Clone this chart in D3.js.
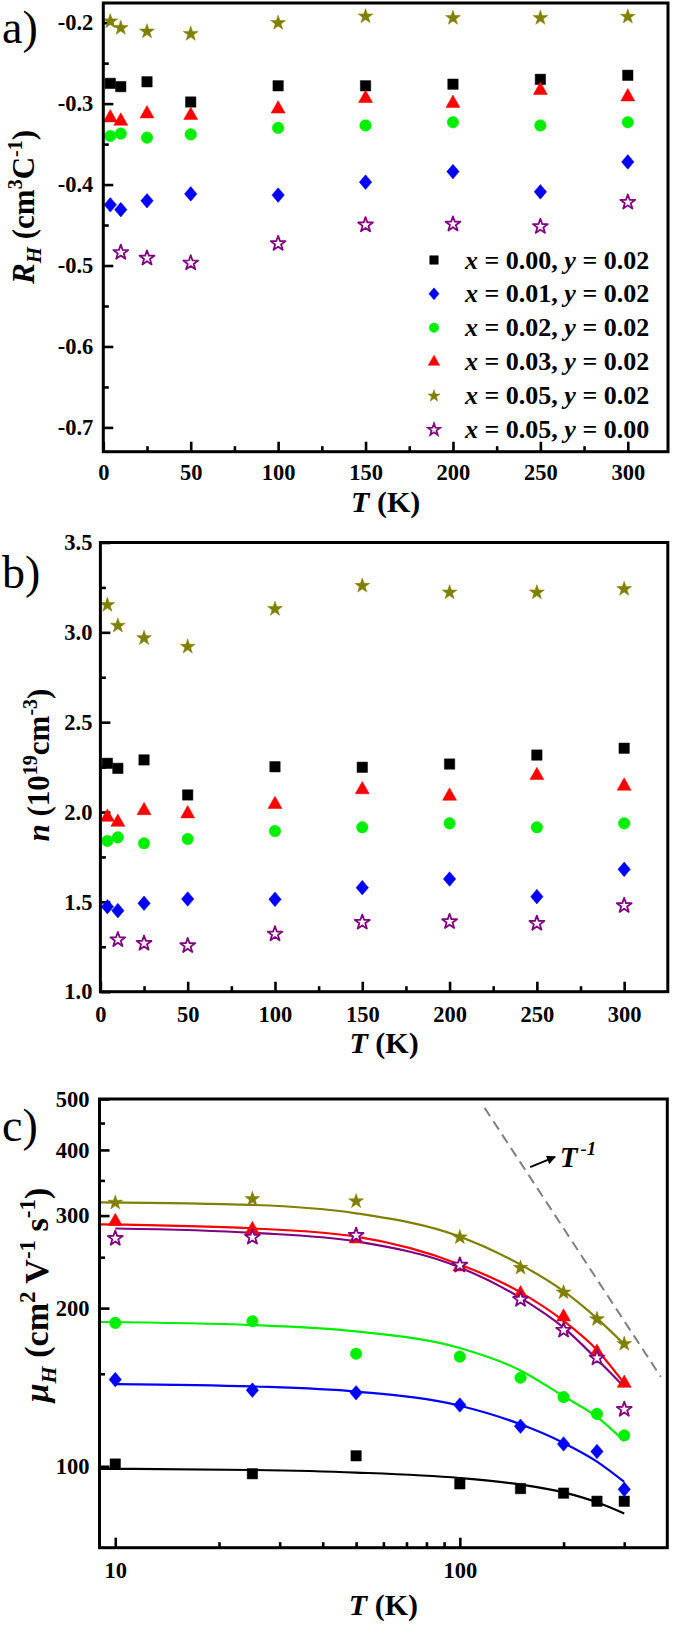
<!DOCTYPE html>
<html><head><meta charset="utf-8">
<script src="https://cdn.jsdelivr.net/npm/d3@7"></script>
<style>
body{margin:0;background:#fff}
svg{display:block}
</style>
</head><body>
<svg id="chart" width="675" height="1625"></svg>
<script>
// ---------------- DATA ----------------
const seriesX = ["0.00", "0.01", "0.02", "0.03", "0.05", "0.05"];
const seriesY = ["0.02", "0.02", "0.02", "0.02", "0.02", "0.00"];
const seriesColor = ["#000000", "#0000ff", "#00ee00", "#ff0000", "#808000", "#800080"];
const seriesShape = ["square", "diamond", "circle", "triangle", "star", "openstar"];

// temperatures (K) for panels a and b
const T_ab = [4, 10, 25, 50, 100, 150, 200, 250, 300];
const T_ab_y0 = [10, 25, 50, 100, 150, 200, 250, 300];

// panel a: Hall coefficient R_H (cm^3 C^-1)
const RH_000 = [-0.275, -0.279, -0.273, -0.298, -0.278, -0.278, -0.276, -0.270, -0.265];
const RH_001 = [-0.425, -0.431, -0.420, -0.4115, -0.413, -0.397, -0.384, -0.409, -0.372];
const RH_002 = [-0.340, -0.337, -0.342, -0.338, -0.330, -0.327, -0.323, -0.327, -0.323];
const RH_003 = [-0.317, -0.321, -0.312, -0.314, -0.306, -0.293, -0.299, -0.283, -0.291];
const RH_005 = [-0.1975, -0.2057, -0.210, -0.213, -0.1995, -0.1914, -0.1933, -0.1933, -0.1917];
const RH_005_y0 = [-0.483, -0.490, -0.496, -0.472, -0.449, -0.448, -0.451, -0.421];

// panel b: carrier density n (10^19 cm^-3)
const n_000 = [2.271, 2.243, 2.290, 2.095, 2.252, 2.249, 2.267, 2.317, 2.355];
const n_001 = [1.473, 1.451, 1.492, 1.516, 1.514, 1.579, 1.627, 1.529, 1.681];
const n_002 = [1.839, 1.859, 1.826, 1.850, 1.894, 1.915, 1.937, 1.915, 1.937];
const n_003 = [1.974, 1.946, 2.011, 1.993, 2.045, 2.127, 2.091, 2.206, 2.147];
const n_005 = [3.156, 3.041, 2.972, 2.924, 3.134, 3.263, 3.226, 3.226, 3.245];
const n_005_y0 = [1.293, 1.273, 1.260, 1.325, 1.390, 1.394, 1.384, 1.483];

// panel c: Hall mobility mu_H (cm^2 V^-1 s^-1)
const T_c = [10, 25, 50, 100, 150, 200, 250, 300];
const mu_000 = [101.0, 96.8, 104.7, 92.6, 90.7, 88.9, 85.8, 85.8];
const mu_001 = [146.2, 139.6, 138.0, 130.8, 119.2, 110.3, 106.7, 90.4];
const mu_002 = [187.5, 188.8, 163.8, 161.7, 147.4, 135.4, 125.8, 114.5];
const mu_003 = [293.0, 282.7, 271.4, 240.2, 213.3, 192.8, 165.2, 144.2];
const mu_005 = [318.4, 323.6, 320.4, 273.6, 239.4, 214.9, 191.2, 171.5];
const mu_005_y0 = [272.3, 273.6, 275.9, 242.2, 208.4, 182.1, 161.2, 128.7];

// panel c: fitted curves
const fitT_9 = [9, 25, 50, 100, 150, 200, 250, 300];
const fitT_10 = [10, 25, 50, 100, 150, 200, 250, 300];
const fit_000 = [98.9, 98.4, 97.3, 95.0, 92.3, 89.2, 85.4, 81.3];
const fit_001 = [143.4, 141.9, 138.7, 130.4, 120.2, 110.8, 102.1, 93.4];
const fit_002 = [188.2, 185.7, 180.6, 167.9, 152.2, 135.9, 124.2, 111.7];
const fit_003 = [288.6, 283.6, 273.6, 242.2, 214.3, 189.1, 166.5, 143.8];
const fit_005 = [318.0, 314.3, 303.0, 273.6, 242.0, 215.4, 191.2, 170.6];
const fit_005_y0 = [283.5, 278.2, 267.9, 239.0, 209.2, 183.6, 159.8, 141.5];

// T^-1 guide line
const guideT = [118, 383];
const guideMu = [481, 148];
const arrowT = [160, 189];
const arrowMu = [371, 388];
const labelT = 195, labelMu = 371;

// ticks
const aXMajor = [0, 50, 100, 150, 200, 250, 300];
const aXMinor = [25, 75, 125, 175, 225, 275];
const aYMajor = [-0.7, -0.6, -0.5, -0.4, -0.3, -0.2];
const aYMinor = [-0.65, -0.55, -0.45, -0.35, -0.25];
const bYMajor = [1.0, 1.5, 2.0, 2.5, 3.0, 3.5];
const bYMinor = [1.25, 1.75, 2.25, 2.75, 3.25];
const cXMajor = [10, 100];
const cXMinor = [20, 30, 40, 50, 60, 70, 80, 90, 200, 300];
const cYMajor = [100, 200, 300, 400, 500];
const cYMinor = [150, 250, 350, 450];

// ---------------- DRAWING ----------------
const FONT = '"Liberation Serif","Times New Roman",Times,serif';
const svg = d3.select("#chart");

function txt(sel) {
  return sel.style("font-family", FONT).style("font-weight", "bold").attr("fill", "#000");
}

function markerPath(shape, k) {
  k = k || 1;
  if (shape === "square") { const h = 5.2 * k; return `M${-h},${-h}H${h}V${h}H${-h}Z`; }
  if (shape === "diamond") { const w = 6.2 * k, h = 7.3 * k; return `M0,${-h}L${w},0L0,${h}L${-w},0Z`; }
  if (shape === "circle") { const r = 5.8 * k; return `M${r},0A${r},${r} 0 1,1 ${-r},0A${r},${r} 0 1,1 ${r},0Z`; }
  if (shape === "triangle") { const w = 7 * k; return `M0,${-7.8 * k}L${w},${4.6 * k}L${-w},${4.6 * k}Z`; }
  const R = 7.8 * k, r = 3.1 * k;
  let p = "";
  for (let i = 0; i < 10; i++) {
    const a = -Math.PI / 2 + i * Math.PI / 5;
    const rr = i % 2 === 0 ? R : r;
    p += (i === 0 ? "M" : "L") + (rr * Math.cos(a)).toFixed(2) + "," + (rr * Math.sin(a) + 0.7 * k).toFixed(2);
  }
  return p + "Z";
}

function drawMarkers(g, xs, ys, x, y, idx, k) {
  const shape = seriesShape[idx], col = seriesColor[idx];
  const open = shape === "openstar";
  g.append("g").selectAll("path").data(xs.map((t, i) => [t, ys[i]])).join("path")
    .attr("transform", d => `translate(${x(d[0])},${y(d[1])})`)
    .attr("d", markerPath(open ? "star" : shape, k))
    .attr("fill", open ? "#fff" : col)
    .attr("stroke", col)
    .attr("stroke-width", open ? 1.8 : 0.5)
    .attr("stroke-linejoin", "round");
}

function styleAxis(sel, fs) {
  sel.select(".domain").remove();
  sel.attr("font-family", null).attr("font-size", null);
  sel.selectAll(".tick line").attr("stroke", "#000").attr("stroke-width", 2.6);
  txt(sel.selectAll(".tick text")).style("font-size", fs + "px");
}

function drawFrame(x, y) {
  const [x0, x1] = x.range(), [y0, y1] = y.range();
  svg.append("rect").attr("x", x0).attr("y", y1).attr("width", x1 - x0).attr("height", y0 - y1)
    .attr("fill", "none").attr("stroke", "#000").attr("stroke-width", 3);
}

const TICKFS = 22.5;
function axes(x, y, xMaj, xMin, yMaj, yMin, xFmt, yFmt, yPad, xPad) {
  const yb = y.range()[0], xl = x.range()[0];
  svg.append("g").attr("transform", `translate(0,${yb})`)
    .call(d3.axisBottom(x).tickValues(xMaj).tickSize(-10).tickPadding(xPad).tickFormat(xFmt))
    .call(s => styleAxis(s, TICKFS));
  svg.append("g").attr("transform", `translate(0,${yb})`)
    .call(d3.axisBottom(x).tickValues(xMin).tickSize(-5.5).tickFormat(""))
    .call(s => styleAxis(s, TICKFS));
  svg.append("g").attr("transform", `translate(${xl},0)`)
    .call(d3.axisLeft(y).tickValues(yMaj).tickSize(-10).tickPadding(yPad).tickFormat(yFmt))
    .call(s => styleAxis(s, TICKFS));
  svg.append("g").attr("transform", `translate(${xl},0)`)
    .call(d3.axisLeft(y).tickValues(yMin).tickSize(-5.5).tickFormat(""))
    .call(s => styleAxis(s, TICKFS));
}

function xTitle(x, yBase) {
  const [x0, x1] = x.range();
  const t = txt(svg.append("text")).attr("x", (x0 + x1) / 2).attr("y", yBase).attr("text-anchor", "middle").style("font-size", "30px");
  t.append("tspan").style("font-style", "italic").text("T");
  t.append("tspan").text(" (K)");
}

function panelLabel(s, x, y) {
  txt(svg.append("text")).attr("x", x).attr("y", y).style("font-size", "46px").style("font-weight", "normal").text(s);
}

// ---------- panel a ----------
const ax = d3.scaleLinear().domain([0, 323]).range([103.3, 668]);
const ay = d3.scaleLinear().domain([-0.73, -0.1757]).range([451.7, 3]);
axes(ax, ay, aXMajor, aXMinor, aYMajor, aYMinor, d => String(d), d => d.toFixed(1), 10, 12.5);
const gA = svg.append("g");
const aData = [[T_ab, RH_000], [T_ab, RH_001], [T_ab, RH_002], [T_ab, RH_003], [T_ab, RH_005], [T_ab_y0, RH_005_y0]];
aData.forEach((d, i) => drawMarkers(gA, d[0], d[1], ax, ay, i, 1));
drawFrame(ax, ay);
xTitle(ax, 512);
{
  const t = txt(svg.append("text")).attr("transform", "translate(34,207) rotate(-90)").attr("text-anchor", "middle").style("font-size", "31px");
  t.append("tspan").style("font-style", "italic").text("R");
  t.append("tspan").style("font-style", "italic").style("font-size", "21px").attr("dy", 7).text("H");
  t.append("tspan").attr("dy", -7).text(" (cm");
  t.append("tspan").style("font-size", "20px").attr("dy", -12).text("3");
  t.append("tspan").attr("dy", 12).text("C");
  t.append("tspan").style("font-size", "20px").attr("dy", -12).text("-1");
  t.append("tspan").attr("dy", 12).text(")");
}
panelLabel("a)", 2, 43);
// legend
{
  const lg = svg.append("g");
  const rowY0 = 260, rowStep = 33.85;
  seriesX.forEach((sx, i) => {
    const yy = rowY0 + i * rowStep;
    const open = seriesShape[i] === "openstar";
    lg.append("path").attr("transform", `translate(434,${yy})`)
      .attr("d", markerPath(open ? "star" : seriesShape[i], 0.82))
      .attr("fill", open ? "#fff" : seriesColor[i]).attr("stroke", seriesColor[i])
      .attr("stroke-width", open ? 1.7 : 0.5);
    const t = txt(lg.append("text")).attr("x", 465).attr("y", yy + 8.5).style("font-size", "26px");
    t.append("tspan").style("font-style", "italic").text("x");
    t.append("tspan").text(" = " + sx + ", ");
    t.append("tspan").style("font-style", "italic").text("y");
    t.append("tspan").text(" = " + seriesY[i]);
  });
}

// ---------- panel b ----------
const bx = d3.scaleLinear().domain([0, 325]).range([100.4, 667.8]);
const by = d3.scaleLinear().domain([1.0, 3.5]).range([991.7, 542.5]);
axes(bx, by, aXMajor, aXMinor, bYMajor, bYMinor, d => String(d), d => d.toFixed(1), 8, 14);
const gB = svg.append("g");
const bData = [[T_ab, n_000], [T_ab, n_001], [T_ab, n_002], [T_ab, n_003], [T_ab, n_005], [T_ab_y0, n_005_y0]];
bData.forEach((d, i) => drawMarkers(gB, d[0], d[1], bx, by, i, 1));
drawFrame(bx, by);
xTitle(bx, 1053);
{
  const t = txt(svg.append("text")).attr("transform", "translate(49,765) rotate(-90)").attr("text-anchor", "middle").style("font-size", "31px");
  t.append("tspan").style("font-style", "italic").text("n");
  t.append("tspan").text(" (10");
  t.append("tspan").style("font-size", "20px").attr("dy", -12).text("19");
  t.append("tspan").attr("dy", 12).text("cm");
  t.append("tspan").style("font-size", "20px").attr("dy", -12).text("-3");
  t.append("tspan").attr("dy", 12).text(")");
}
panelLabel("b)", 2, 588);

// ---------- panel c ----------
const cx = d3.scaleLog().domain([9, 400]).range([99.5, 667.3]);
const cy = d3.scaleLog().domain([70, 500]).range([1547.7, 1099]);
axes(cx, cy, cXMajor, cXMinor, cYMajor, cYMinor, d => String(d), d => String(d), 10, 14);
const gC = svg.append("g");
const fits = [[fitT_9, fit_000], [fitT_10, fit_001], [fitT_9, fit_002], [fitT_9, fit_003], [fitT_9, fit_005], [fitT_10, fit_005_y0]];
const line = d3.line().x(d => cx(d[0])).y(d => cy(d[1])).curve(d3.curveMonotoneX);
fits.forEach((f, i) => {
  gC.append("path").attr("d", line(f[0].map((t, j) => [t, f[1][j]])))
    .attr("fill", "none").attr("stroke", seriesColor[i]).attr("stroke-width", 2.2);
});
const cData = [mu_000, mu_001, mu_002, mu_003, mu_005, mu_005_y0];
cData.forEach((d, i) => drawMarkers(gC, T_c, d, cx, cy, i, 1));
gC.append("path").attr("d", d3.line()([[cx(guideT[0]), cy(guideMu[0])], [cx(guideT[1]), cy(guideMu[1])]]))
  .attr("stroke", "#808080").attr("stroke-width", 2).attr("stroke-dasharray", "10,6").attr("fill", "none");
svg.append("defs").append("marker").attr("id", "arrow").attr("viewBox", "0 0 10 10").attr("refX", 9).attr("refY", 5)
  .attr("markerWidth", 10).attr("markerHeight", 9).attr("markerUnits", "userSpaceOnUse").attr("orient", "auto")
  .append("path").attr("d", "M0,0L10,5L0,10Z").attr("fill", "#000");
gC.append("line").attr("x1", cx(arrowT[0])).attr("y1", cy(arrowMu[0])).attr("x2", cx(arrowT[1])).attr("y2", cy(arrowMu[1]))
  .attr("stroke", "#000").attr("stroke-width", 2).attr("marker-end", "url(#arrow)");
{
  const t = txt(svg.append("text")).attr("x", cx(labelT)).attr("y", cy(labelMu)).style("font-size", "29px").style("font-style", "italic");
  t.append("tspan").text("T");
  t.append("tspan").style("font-size", "19px").attr("dy", -12).attr("dx", 3).text("-1");
}
drawFrame(cx, cy);
xTitle(cx, 1615);
{
  const t = txt(svg.append("text")).attr("transform", "translate(48,1295) rotate(-90)").attr("text-anchor", "middle").style("font-size", "34px");
  t.append("tspan").style("font-style", "italic").text("μ");
  t.append("tspan").style("font-style", "italic").style("font-size", "22px").attr("dy", 8).text("H");
  t.append("tspan").attr("dy", -8).text(" (cm");
  t.append("tspan").style("font-size", "23px").attr("dy", -13).text("2");
  t.append("tspan").attr("dy", 13).text(" V");
  t.append("tspan").style("font-size", "23px").attr("dy", -13).text("-1");
  t.append("tspan").attr("dy", 13).text(" s");
  t.append("tspan").style("font-size", "23px").attr("dy", -13).text("-1");
  t.append("tspan").attr("dy", 13).text(")");
}
panelLabel("c)", 2, 1141);
</script>
</body></html>
